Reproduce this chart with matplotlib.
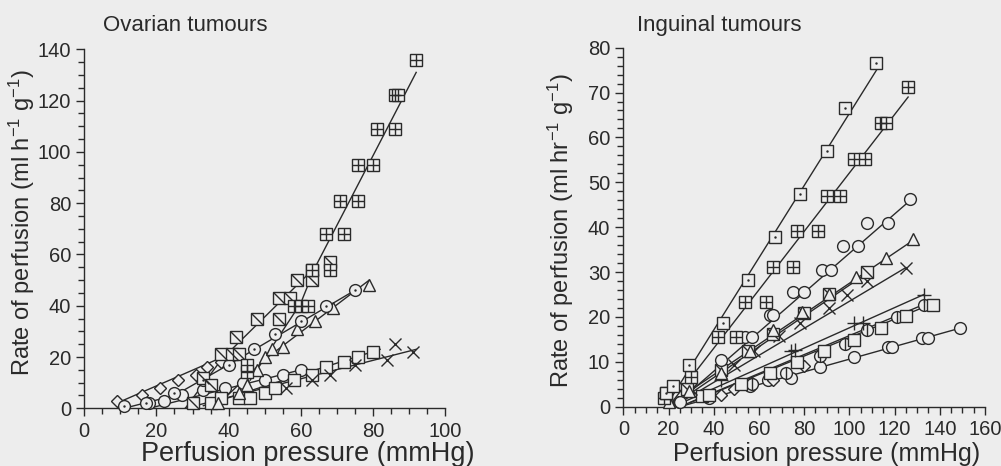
import numpy as np
import matplotlib
matplotlib.use('Agg')
from matplotlib import pyplot as plt
from matplotlib.path import Path
from matplotlib.ticker import MultipleLocator

plt.rcParams['font.family'] = ['Liberation Sans', 'DejaVu Sans']
plt.rcParams['mathtext.fontset'] = 'custom'
plt.rcParams['mathtext.rm'] = 'Liberation Sans'
plt.rcParams['mathtext.default'] = 'regular'

bg = '#ededed'
ink = '#2a2a2a'

# ---- Ovarian tumours (left) ----
ov_box_x = [45, 45, 58, 60, 62, 63, 68, 67, 72, 71, 76, 76, 80, 81, 86, 86, 87, 92]
ov_box_y = [14, 17, 40, 40, 40, 54, 54, 68, 68, 81, 81, 95, 95, 109, 109, 122, 122, 136]
ov_box_lx = [46, 60, 64, 92]
ov_box_ly = [11, 41, 55, 131]

ov_diag_x = [30, 33, 35, 38, 41, 43, 42, 48, 54, 54, 57, 59, 63, 63, 68]
ov_diag_y = [2, 12, 9, 21, 21, 21, 28, 35, 35, 43, 43, 50, 50, 54, 57]
ov_diag_lx = [28, 38, 64]
ov_diag_ly = [0, 19, 55]

ov_circ_x = [11, 17, 25, 33, 40, 47, 53, 60, 67, 75]
ov_circ_y = [1, 2, 6, 11, 17, 23, 29, 34, 40, 46]
ov_circ_lx = [11, 25, 40, 75]
ov_circ_ly = [0, 5, 17, 46]

ov_tri_x = [37, 43, 45, 48, 50, 52, 55, 59, 64, 69, 79]
ov_tri_y = [2, 6, 9, 15, 20, 23, 24, 31, 34, 39, 48]
ov_tri_lx = [36, 50, 79]
ov_tri_ly = [0, 19, 50]

ov_circ2_x = [18, 22, 27, 33, 39, 44, 50, 55, 60]
ov_circ2_y = [2, 3, 5, 7, 8, 10, 11, 13, 15]
ov_circ2_lx = [18, 60]
ov_circ2_ly = [0, 15]

ov_sq_x = [35, 38, 43, 46, 50, 53, 58, 63, 67, 72, 76, 80]
ov_sq_y = [2, 4, 4, 4, 6, 8, 11, 13, 16, 18, 20, 22]
ov_sq_lx = [33, 82]
ov_sq_ly = [1, 23]

ov_x_x = [30, 56, 63, 68, 75, 84, 86, 91]
ov_x_y = [2, 8, 11, 13, 17, 19, 25, 22]
ov_x_lx = [28, 92]
ov_x_ly = [0, 23]

ov_dia_x = [9, 16, 21, 26, 31, 34, 38]
ov_dia_y = [3, 5, 8, 11, 13, 16, 18]
ov_dia_lx = [9, 40]
ov_dia_ly = [2, 21]

# ---- Inguinal tumours (right) ----
ig_sq_x = [19, 22, 29, 44, 55, 67, 78, 90, 98, 112]
ig_sq_y = [3, 4.5, 9.3, 18.7, 28.2, 37.7, 47.5, 57, 66.5, 76.5]
ig_sq_lx = [20, 112]
ig_sq_ly = [1, 75]

ig_box_x = [18, 19, 30, 42, 50, 54, 63, 66, 75, 77, 86, 90, 96, 102, 107, 114, 116, 126]
ig_box_y = [2, 3, 6.7, 15.6, 15.6, 23.4, 23.4, 31.2, 31.2, 39.2, 39.2, 47, 47, 55.3, 55.3, 63.3, 63.3, 71.2]
ig_box_lx = [20, 126]
ig_box_ly = [0, 69]

ig_circ_x = [25, 43, 54, 57, 65, 66, 75, 80, 88, 92, 97, 104, 108, 117, 127]
ig_circ_y = [1, 10.3, 15.5, 15.5, 20.4, 20.4, 25.6, 25.6, 30.5, 30.5, 35.7, 35.7, 41, 41, 46.2]
ig_circ_lx = [22, 127]
ig_circ_ly = [0, 46]

ig_tri_x = [20, 29, 43, 56, 66, 79, 91, 103, 116, 128]
ig_tri_y = [1, 3.5, 7.5, 12.5, 17, 21, 25, 29, 33.1, 37.3]
ig_tri_lx = [22, 128]
ig_tri_ly = [1, 37]

ig_diag_x = [28, 43, 55, 66, 80, 91, 108]
ig_diag_y = [4, 8.2, 12.3, 16.3, 20.9, 25, 29.9]
ig_diag_lx = [24, 110]
ig_diag_ly = [1, 30.5]

ig_x_x = [22, 30, 49, 58, 69, 78, 91, 99, 108, 125]
ig_x_y = [1, 4, 9.3, 12.3, 15.7, 18.7, 21.9, 24.9, 28, 31]
ig_x_lx = [22, 125]
ig_x_ly = [0, 31]

ig_plus_x = [27, 43, 74, 76, 102, 106, 133]
ig_plus_y = [3.7, 5.9, 12.3, 12.6, 18.6, 18.6, 24.9]
ig_plus_lx = [22, 133]
ig_plus_ly = [0, 25]

ig_sq2_x = [35, 38, 52, 65, 77, 89, 102, 114, 125, 137]
ig_sq2_y = [2.3, 2.5, 5, 7.4, 10, 12.4, 14.9, 17.5, 20.1, 22.7]
ig_sq2_lx = [30, 137]
ig_sq2_ly = [1, 23]

ig_oplus_x = [57, 72, 87, 98, 108, 121, 133]
ig_oplus_y = [5, 7.5, 11.3, 14, 17, 20, 22.7]
ig_oplus_lx = [25, 134]
ig_oplus_ly = [0, 23]

ig_dia_x = [24, 43, 49, 57, 66, 80]
ig_dia_y = [1, 2.6, 4, 5.2, 6, 9]

ig_circ2_x = [38, 56, 64, 74, 87, 102, 117, 119, 132, 135, 149]
ig_circ2_y = [2, 4.5, 6, 6.3, 8.8, 11, 13.2, 13.2, 15.2, 15.2, 17.5]
ig_circ2_lx = [25, 149]
ig_circ2_ly = [0, 17.5]

diag = Path([(-1, 1), (1, -1)], [Path.MOVETO, Path.LINETO])

fig = plt.figure(figsize=(10.01, 4.66), dpi=100, facecolor=bg)
ax1 = fig.add_axes([0.0842, 0.1238, 0.3604, 0.7704])
ax2 = fig.add_axes([0.6227, 0.1273, 0.3613, 0.7704])

ms = 8.5
lw = 1.0


def series(ax, x, y, lx, ly, kind):
    if lx is not None:
        ax.plot(lx, ly, '-', color=ink, lw=lw, zorder=2)
    kw = dict(ls='none', markersize=ms, markeredgewidth=1.0, clip_on=False, zorder=3)
    if kind in ('box', 'diag', 'sq', 'sqdot'):
        ax.plot(x, y, 's', mfc=bg, mec=ink, **kw)
        if kind == 'box':
            ax.plot(x, y, '+', mec=ink, **kw)
        elif kind == 'diag':
            ax.plot(x, y, marker=diag, mec=ink, **kw)
        elif kind == 'sqdot':
            ax.plot(x, y, '.', ms=1.5, color=ink, ls='none', clip_on=False, zorder=4)
    elif kind in ('circ', 'circdot', 'oplus'):
        ax.plot(x, y, 'o', mfc=bg, mec=ink, **kw)
        if kind == 'circdot':
            ax.plot(x, y, '.', ms=1.5, color=ink, ls='none', clip_on=False, zorder=4)
        if kind == 'oplus':
            ax.plot(x, y, '|', mec=ink, **kw)
    elif kind == 'tri':
        ax.plot(x, y, '^', mfc=bg, mec=ink, **kw)
    elif kind == 'dia':
        ax.plot(x, y, 'D', mfc=bg, mec=ink, markersize=ms * 0.75, markeredgewidth=1.0,
                ls='none', clip_on=False, zorder=3)
    elif kind == 'x':
        ax.plot(x, y, 'x', mec=ink, **kw)
    elif kind == 'plus':
        ax.plot(x, y, '+', mec=ink, markersize=ms * 1.2, markeredgewidth=1.0,
                ls='none', clip_on=False, zorder=3)


series(ax1, ov_dia_x, ov_dia_y, ov_dia_lx, ov_dia_ly, 'dia')
series(ax1, ov_circ2_x, ov_circ2_y, ov_circ2_lx, ov_circ2_ly, 'circ')
series(ax1, ov_sq_x, ov_sq_y, ov_sq_lx, ov_sq_ly, 'sq')
series(ax1, ov_x_x, ov_x_y, ov_x_lx, ov_x_ly, 'x')
series(ax1, ov_tri_x, ov_tri_y, ov_tri_lx, ov_tri_ly, 'tri')
series(ax1, ov_circ_x, ov_circ_y, ov_circ_lx, ov_circ_ly, 'circdot')
series(ax1, ov_diag_x, ov_diag_y, ov_diag_lx, ov_diag_ly, 'diag')
series(ax1, ov_box_x, ov_box_y, ov_box_lx, ov_box_ly, 'box')

series(ax2, ig_circ2_x, ig_circ2_y, ig_circ2_lx, ig_circ2_ly, 'circ')
series(ax2, ig_dia_x, ig_dia_y, None, None, 'dia')
series(ax2, ig_oplus_x, ig_oplus_y, ig_oplus_lx, ig_oplus_ly, 'oplus')
series(ax2, ig_sq2_x, ig_sq2_y, ig_sq2_lx, ig_sq2_ly, 'sq')
series(ax2, ig_plus_x, ig_plus_y, ig_plus_lx, ig_plus_ly, 'plus')
series(ax2, ig_x_x, ig_x_y, ig_x_lx, ig_x_ly, 'x')
series(ax2, ig_diag_x, ig_diag_y, ig_diag_lx, ig_diag_ly, 'diag')
series(ax2, ig_tri_x, ig_tri_y, ig_tri_lx, ig_tri_ly, 'tri')
series(ax2, ig_circ_x, ig_circ_y, ig_circ_lx, ig_circ_ly, 'circ')
series(ax2, ig_box_x, ig_box_y, ig_box_lx, ig_box_ly, 'box')
series(ax2, ig_sq_x, ig_sq_y, ig_sq_lx, ig_sq_ly, 'sqdot')

for ax in (ax1, ax2):
    ax.set_facecolor('none')
    for s in ('top', 'right'):
        ax.spines[s].set_visible(False)
    for s in ('left', 'bottom'):
        ax.spines[s].set_color(ink)
        ax.spines[s].set_linewidth(1.0)
    ax.tick_params(which='both', direction='out', color=ink, width=1.0, labelcolor=ink,
                   labelsize=14.5)
    ax.tick_params(which='major', length=6)
    ax.tick_params(which='minor', length=4)

ax1.set_xlim(0, 100)
ax1.set_ylim(0, 140)
ax1.xaxis.set_major_locator(MultipleLocator(20))
ax1.xaxis.set_minor_locator(MultipleLocator(5))
ax1.yaxis.set_major_locator(MultipleLocator(20))
ax1.yaxis.set_minor_locator(MultipleLocator(5))

ax2.set_xlim(0, 160)
ax2.set_ylim(0, 80)
ax2.xaxis.set_major_locator(MultipleLocator(20))
ax2.xaxis.set_minor_locator(MultipleLocator(5))
ax2.yaxis.set_major_locator(MultipleLocator(10))
ax2.yaxis.set_minor_locator(MultipleLocator(2))

fig.text(0.103, 0.946, 'Ovarian tumours', fontsize=16, color=ink, va='center', ha='left')
fig.text(0.636, 0.946, 'Inguinal tumours', fontsize=16, color=ink, va='center', ha='left')

fig.text(0.307, 0.025, 'Perfusion pressure (mmHg)', fontsize=19.5, color=ink,
         ha='center', va='center')
fig.text(0.826, 0.025, 'Perfusion pressure (mmHg)', fontsize=18, color=ink,
         ha='center', va='center')
fig.text(0.022, 0.522, 'Rate of perfusion (ml h$^{-1}$ g$^{-1}$)', fontsize=17, color=ink,
         rotation=90, ha='center', va='center')
fig.text(0.56, 0.505, 'Rate of perfusion (ml hr$^{-1}$ g$^{-1}$)', fontsize=17, color=ink,
         rotation=90, ha='center', va='center')

fig.savefig('out.png', dpi=100, facecolor=bg)
